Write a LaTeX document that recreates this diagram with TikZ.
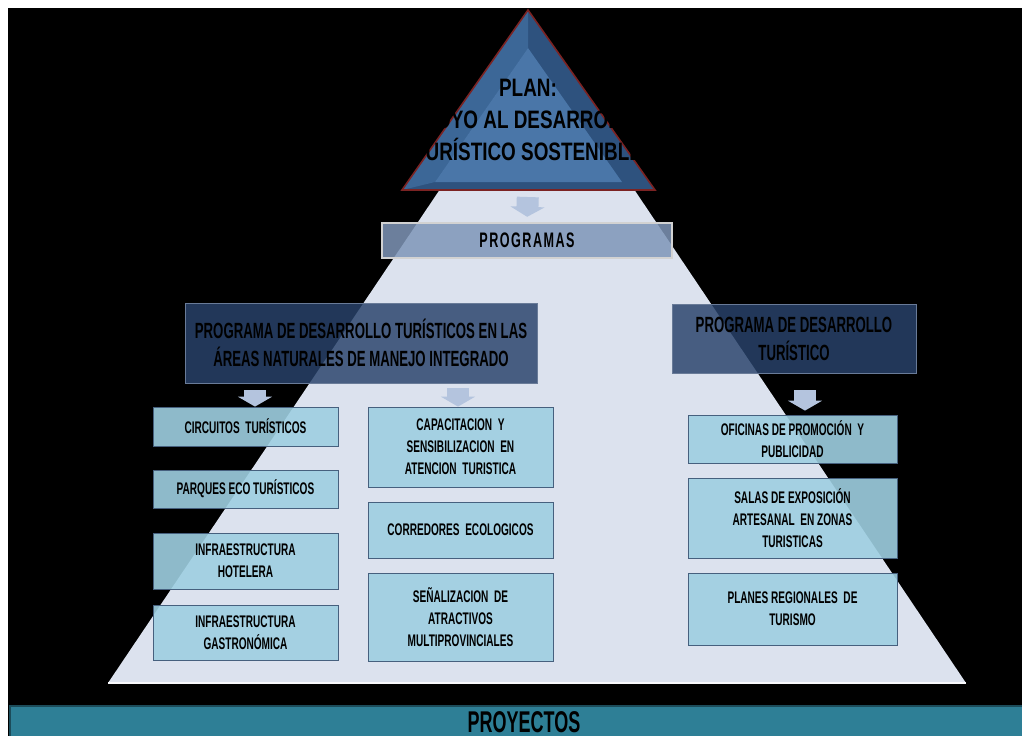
\documentclass[tikz,border=0pt]{standalone}
\usepackage{fontspec}
\setmainfont{Liberation Sans}[FakeStretch=0.6]
\newfontfamily\planfont{Liberation Sans}[FakeStretch=0.75]
\usetikzlibrary{arrows.meta}
\definecolor{pyr}{HTML}{DCE2EE}
\definecolor{planred}{HTML}{7B2323}
\definecolor{planout}{HTML}{2E527E}
\definecolor{planleft}{HTML}{3C6797}
\definecolor{planin}{HTML}{4A76A8}
\definecolor{prgfill}{HTML}{7F96B8}
\definecolor{navy}{HTML}{29436C}
\definecolor{boxfill}{HTML}{9ECFE1}
\definecolor{boxline}{HTML}{46607E}
\definecolor{arrfill}{HTML}{B4C4DE}
\definecolor{teal}{HTML}{2E7F96}
\tikzset{
    PB/.style ={rectangle, draw=boxline, fill=boxfill, fill opacity=0.9, text opacity=1,
                minimum width=92.5pt, inner sep=1pt, align=center,
                font=\bfseries\fontsize{8.4}{11}\selectfont},
    PB3/.style={PB, minimum width=104.5pt},
    PG/.style ={rectangle, fill=navy, fill opacity=0.83, text opacity=1, draw=navy!70!white,
                inner sep=1pt, align=center, font=\bfseries\fontsize{11}{14}\selectfont},
    DA/.style ={draw=arrfill, line width=11pt, -{Triangle[width=17pt,length=5pt]}}}
\begin{document}
\begin{tikzpicture}[x=0.5pt,y=-0.5pt]
    \useasboundingbox (0,0) rectangle (1022,736);
    \fill[white] (0,0) rectangle (1022,736);
    \fill[black] (8,8) rectangle (1022,736);
    % pyramid
    \fill[pyr] (108,683) -- (537,45) -- (966,683) -- cycle;
    \draw[white!80!pyr, line width=1pt] (108,683) -- (966,683);
    % plan triangle
    \fill[planout] (528,10) -- (655,190) -- (402,190) -- cycle;
    \fill[planleft] (528,10) -- (528,48) -- (435,182) -- (402,190) -- cycle;
    \fill[planin] (528,48) -- (622,182) -- (435,182) -- cycle;
    \draw[planred, line width=0.8pt] (528,10) -- (655,190) -- (402,190) -- cycle;
    \node[font=\planfont\bfseries\fontsize{12.6}{16}\selectfont, align=center] (plan) at (528,120)
        {PLAN:\\APOYO AL DESARROLLO\\TURÍSTICO SOSTENIBLE};
    \coordinate (planbase) at (528,190);
    % programas
    \node[rectangle, fill=prgfill, fill opacity=0.85, text opacity=1, draw=gray!35,
          line width=1.2pt, minimum width=145pt, minimum height=17.5pt,
          font=\bfseries\fontsize{10.5}{12}\selectfont\addfontfeatures{LetterSpace=7}]
          (prg) at (527,240.5) {PROGRAMAS};
    \node[PG, minimum width=176pt, minimum height=40pt] (pl) at (361,343)
        {PROGRAMA DE DESARROLLO TURÍSTICOS EN LAS\\ÁREAS NATURALES DE MANEJO INTEGRADO};
    \node[PG, minimum width=122pt, minimum height=34.5pt] (pr) at (794,338.5)
        {PROGRAMA DE DESARROLLO\\TURÍSTICO};
    % proyectos
    \node[PB, minimum height=19.5pt] (c1) at (245.5,426.5) {CIRCUITOS \ TURÍSTICOS};
    \node[PB, minimum height=19pt] (c2) at (245.5,489) {PARQUES ECO TURÍSTICOS};
    \node[PB, minimum height=28pt] (c3) at (245.5,561) {INFRAESTRUCTURA\\HOTELERA};
    \node[PB, minimum height=27.5pt] (c4) at (245.5,632.5) {INFRAESTRUCTURA\\GASTRONÓMICA};
    \node[PB, minimum height=40pt] (m1) at (460.5,447) {CAPACITACION \ Y\\SENSIBILIZACION \ EN\\ATENCION \ TURISTICA};
    \node[PB, minimum height=28pt] (m2) at (460.5,530) {CORREDORES \ ECOLOGICOS};
    \node[PB, minimum height=44pt] (m3) at (460.5,617) {SEÑALIZACION \ DE\\ATRACTIVOS\\MULTIPROVINCIALES};
    \node[PB3, minimum height=24pt] (r1) at (792.5,439) {OFICINAS DE PROMOCIÓN \ Y\\PUBLICIDAD};
    \node[PB3, minimum height=40pt] (r2) at (792.5,518) {SALAS DE EXPOSICIÓN\\ARTESANAL \ EN ZONAS\\TURISTICAS};
    \node[PB3, minimum height=36pt] (r3) at (792.5,609) {PLANES REGIONALES \ DE\\TURISMO};
    % arrows
    \coordinate (a1) at ([xshift=4.75pt]c1.north);
    \coordinate (a2) at ([xshift=-1.25pt]m1.north);
    \coordinate (a3) at ([xshift=6.25pt]r1.north);
    \draw[DA, shorten <=3.5pt, shorten >=2.5pt] (planbase) -- (prg.north);
    \draw[DA, shorten <=3.5pt] (a1 |- pl.south) -- (a1);
    \draw[DA, shorten <=2.5pt] (a2 |- pl.south) -- (a2);
    \draw[DA, shorten <=8.5pt, shorten >=2pt] (a3 |- pr.south) -- (a3);
    % bottom bar
    \fill[teal] (10,706) rectangle (1022,736);
    \draw[teal!60!black, line width=1pt] (10,736) -- (10,706) -- (1022,706);
    \node[font=\bfseries\fontsize{15}{18}\selectfont, inner sep=0pt] (proy) at (524,722) {PROYECTOS};
\end{tikzpicture}
\end{document}
